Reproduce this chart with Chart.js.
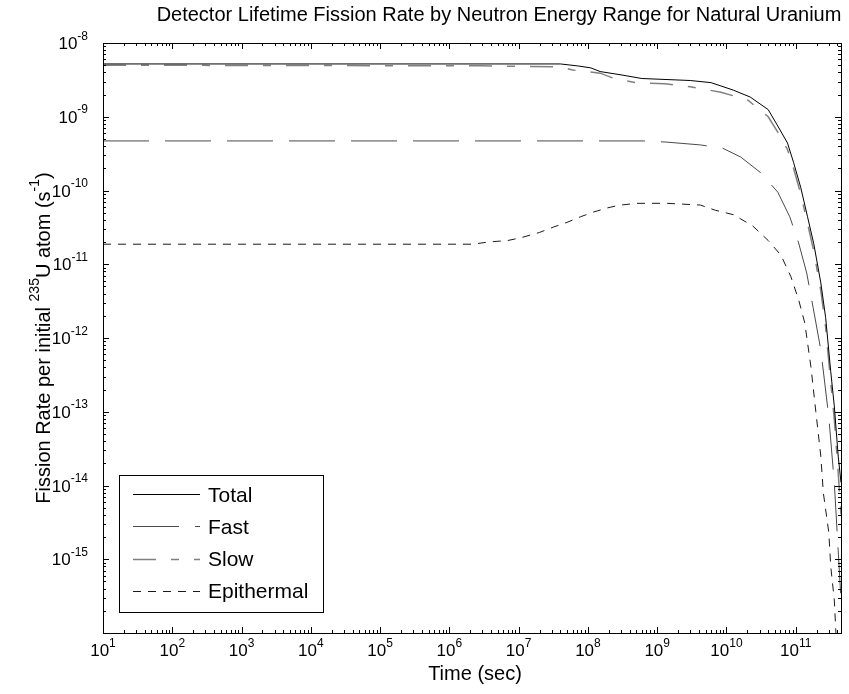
<!DOCTYPE html>
<html>
<head>
<meta charset="utf-8">
<script src="https://cdn.jsdelivr.net/npm/chart.js@4.4.1/dist/chart.umd.min.js"></script>
<style>
  html, body { margin: 0; padding: 0; background: #fff; }
  #wrap { width: 849px; height: 694px; }
</style>
</head>
<body>
<div id="wrap"><canvas id="chart" width="849" height="694"></canvas></div>
<script>
// values (time in sec, fission rate per atom in 1/s)
const totalX = [1e1, 4e7, 7e7, 1.1e8, 1.5e8, 3e8, 6e8, 3e9, 6e9, 1.25e10, 2.2e10, 4e10, 5.5e10, 7.6e10, 9.3e10, 1.18e11, 1.48e11, 1.82e11, 2.3e11, 2.7e11, 3.2e11, 3.6e11, 4.1e11, 4.5e11];
const totalY = [5.2e-9, 5.2e-9, 4.9e-9, 4.6e-9, 4.1e-9, 3.7e-9, 3.3e-9, 3.1e-9, 2.9e-9, 2.3e-9, 1.85e-9, 1.25e-9, 7.5e-10, 4.4e-10, 2.4e-10, 1.1e-10, 4.4e-11, 1.9e-11, 5.6e-12, 1.9e-12, 3.5e-13, 1.2e-13, 2.5e-14, 1.1e-14];

const fastX = [1e1, 6.3e8, 1.3e9, 4.2e9, 8.8e9, 1.6e10, 3.1e10, 5.5e10, 8.2e10, 1.1e11, 1.44e11, 1.78e11, 2.3e11, 3.0e11, 3.6e11, 4.1e11, 4.5e11];
const fastY = [4.7e-10, 4.7e-10, 4.55e-10, 4.15e-10, 3.75e-10, 2.85e-10, 1.75e-10, 9.5e-11, 4.4e-11, 1.95e-11, 7.6e-12, 2.6e-12, 6.9e-13, 8.5e-14, 1.1e-14, 1.3e-15, 2.8e-16];

const slowX = [1e1, 2.8e6, 4e7, 6e7, 1.5e8, 2.5e8, 5e8, 1.3e9, 3e9, 8.3e9, 2e10, 4e10, 5.5e10, 7.6e10, 9.3e10, 1.18e11, 1.48e11, 1.82e11, 2.3e11, 2.7e11, 3.2e11, 3.6e11, 4.1e11, 4.5e11];
const slowY = [5.0e-9, 4.9e-9, 4.75e-9, 4.3e-9, 3.9e-9, 3.25e-9, 2.9e-9, 2.8e-9, 2.55e-9, 2.15e-9, 1.7e-9, 1.0e-9, 6.2e-10, 3.6e-10, 2.0e-10, 9e-11, 3.6e-11, 1.5e-11, 4.4e-12, 1.4e-12, 2.5e-13, 8e-14, 1.5e-14, 4e-15];

const epiX = [1e1, 2.2e6, 3.6e6, 7e6, 1.1e7, 2e7, 3.2e7, 5e7, 7.8e7, 1.2e8, 1.9e8, 2.8e8, 5e8, 1.4e9, 4.2e9, 6.9e9, 1.26e10, 2.4e10, 4e10, 6.1e10, 8.5e10, 1.1e11, 1.35e11, 1.66e11, 1.95e11, 2.3e11, 2.5e11, 3.0e11, 3.2e11, 3.6e11, 3.8e11, 4.5e11];
const epiY = [1.87e-11, 1.87e-11, 2.0e-11, 2.1e-11, 2.3e-11, 2.7e-11, 3.2e-11, 3.7e-11, 4.4e-11, 5.1e-11, 5.8e-11, 6.3e-11, 6.7e-11, 6.7e-11, 6.35e-11, 5.4e-11, 4.7e-11, 3.3e-11, 2.1e-11, 1.33e-11, 6.8e-12, 3.3e-12, 1.6e-12, 4e-13, 1e-13, 2.5e-14, 8e-15, 2.3e-15, 8e-16, 2.8e-16, 1e-16, 2e-17];

const seriesNames = ["Total", "Fast", "Slow", "Epithermal"];
const xTickExps = [1, 2, 3, 4, 5, 6, 7, 8, 9, 10, 11];
const yTickExps = [-8, -9, -10, -11, -12, -13, -14, -15];

const titleText = "Detector Lifetime Fission Rate by Neutron Energy Range for Natural Uranium";
const xLabel = "Time (sec)";
// [text, superscript?]
const yLabel = [["Fission Rate per initial ", false], ["235", true], ["U atom (s", false], ["-1", true], [")", false]];

const FONT = "'Liberation Sans', Arial, Helvetica, sans-serif";

function pts(xs, ys) {
  return xs.map((x, i) => ({ x: x, y: ys[i] }));
}

// draws a run of text pieces, superscripts smaller and raised; returns total width
function drawPieces(ctx, pieces, x, y, size, align) {
  const supSize = Math.round(size * 0.7);
  let w = 0;
  pieces.forEach(([t, sup]) => {
    ctx.font = (sup ? supSize : size) + "px " + FONT;
    w += ctx.measureText(t).width;
  });
  let cx = align === "center" ? x - w / 2 : align === "right" ? x - w : x;
  ctx.textAlign = "left";
  ctx.textBaseline = "alphabetic";
  pieces.forEach(([t, sup]) => {
    ctx.font = (sup ? supSize : size) + "px " + FONT;
    ctx.fillText(t, cx, sup ? y - size * 0.55 : y);
    cx += ctx.measureText(t).width;
  });
  return w;
}

const matlabAxes = {
  id: "matlabAxes",
  afterDraw(chart) {
    const ctx = chart.ctx;
    const a = chart.chartArea;
    const xs = chart.scales.x;
    const ys = chart.scales.y;
    ctx.save();
    ctx.fillStyle = "#000";
    ctx.strokeStyle = "#000";
    ctx.lineWidth = 1;

    // frame
    ctx.strokeRect(Math.round(a.left) + 0.5, Math.round(a.top) + 0.5,
      Math.round(a.right - a.left), Math.round(a.bottom - a.top));

    // ticks, inward on all four sides
    ctx.beginPath();
    for (let e = 0; e <= 11; e++) {
      for (let m = 1; m <= 9; m++) {
        const v = m * Math.pow(10, e);
        if (v < xs.min || v > xs.max) continue;
        const px = Math.round(xs.getPixelForValue(v)) + 0.5;
        const len = m === 1 ? 6 : 3;
        ctx.moveTo(px, a.bottom); ctx.lineTo(px, a.bottom - len);
        ctx.moveTo(px, a.top); ctx.lineTo(px, a.top + len);
      }
    }
    for (let e = -17; e <= -8; e++) {
      for (let m = 1; m <= 9; m++) {
        const v = m * Math.pow(10, e);
        if (v < ys.min * 0.999 || v > ys.max * 1.001) continue;
        const py = Math.round(ys.getPixelForValue(v)) + 0.5;
        const len = m === 1 ? 6 : 3;
        ctx.moveTo(a.left, py); ctx.lineTo(a.left + len, py);
        ctx.moveTo(a.right, py); ctx.lineTo(a.right - len, py);
      }
    }
    ctx.stroke();

    // tick labels
    xTickExps.forEach((e) => {
      const px = xs.getPixelForValue(Math.pow(10, e));
      drawPieces(ctx, [["10", false], [String(e), true]], px, a.bottom + 23, 17, "center");
    });
    yTickExps.forEach((e) => {
      const py = ys.getPixelForValue(Math.pow(10, e));
      drawPieces(ctx, [["10", false], [String(e), true]], a.left - 15, py + 6, 17, "right");
    });

    // axis titles
    drawPieces(ctx, [[xLabel, false]], (a.left + a.right) / 2 + 3, a.bottom + 47, 20, "center");
    ctx.save();
    ctx.translate(50, (a.top + a.bottom) / 2);
    ctx.rotate(-Math.PI / 2);
    drawPieces(ctx, yLabel, 0, 0, 20, "center");
    ctx.restore();

    // title
    drawPieces(ctx, [[titleText, false]], 499, 21, 20, "center");

    // legend box in the lower left corner
    const bx = 119.5, by = 475.5, bw = 204, bh = 137;
    ctx.fillStyle = "#fff";
    ctx.fillRect(bx, by, bw, bh);
    ctx.strokeStyle = "#000";
    ctx.strokeRect(bx, by, bw, bh);
    chart.data.datasets.forEach((ds, i) => {
      const ly = 494 + i * 32.3;
      ctx.save();
      ctx.strokeStyle = ds.borderColor;
      ctx.lineWidth = ds.borderWidth;
      ctx.setLineDash(ds.borderDash || []);
      ctx.beginPath();
      ctx.moveTo(133, Math.round(ly) + 0.5);
      ctx.lineTo(200, Math.round(ly) + 0.5);
      ctx.stroke();
      ctx.restore();
      ctx.fillStyle = "#000";
      drawPieces(ctx, [[ds.label, false]], 208, ly + 7.5, 21, "left");
    });
    ctx.restore();
  }
};

new Chart(document.getElementById("chart"), {
  type: "line",
  data: {
    datasets: [
      { label: seriesNames[0], data: pts(totalX, totalY), borderColor: "#000000", borderWidth: 1, borderDash: [] },
      { label: seriesNames[1], data: pts(fastX, fastY), borderColor: "#4a4a4a", borderWidth: 1, borderDash: [46, 16] },
      { label: seriesNames[2], data: pts(slowX, slowY), borderColor: "#808080", borderWidth: 1.5, borderDash: [23, 15, 8, 15] },
      { label: seriesNames[3], data: pts(epiX, epiY), borderColor: "#1a1a1a", borderWidth: 1, borderDash: [8, 7] },
    ],
  },
  options: {
    responsive: false,
    animation: false,
    parsing: false,
    elements: {
      point: { radius: 0 },
      line: { tension: 0, fill: false },
    },
    layout: { padding: { left: 0, right: 8, top: 43, bottom: 0 } },
    plugins: {
      legend: { display: false },
      tooltip: { enabled: false },
      title: { display: false },
    },
    scales: {
      x: {
        type: "logarithmic",
        min: 10,
        max: 4.5e11,
        grid: { display: false },
        border: { display: false },
        ticks: { display: false },
        afterFit: (scale) => { scale.height = 61; },
      },
      y: {
        type: "logarithmic",
        min: 1e-16,
        max: 1e-8,
        grid: { display: false },
        border: { display: false },
        ticks: { display: false },
        afterFit: (scale) => { scale.width = 103; },
      },
    },
  },
  plugins: [matlabAxes],
});
</script>
</body>
</html>
